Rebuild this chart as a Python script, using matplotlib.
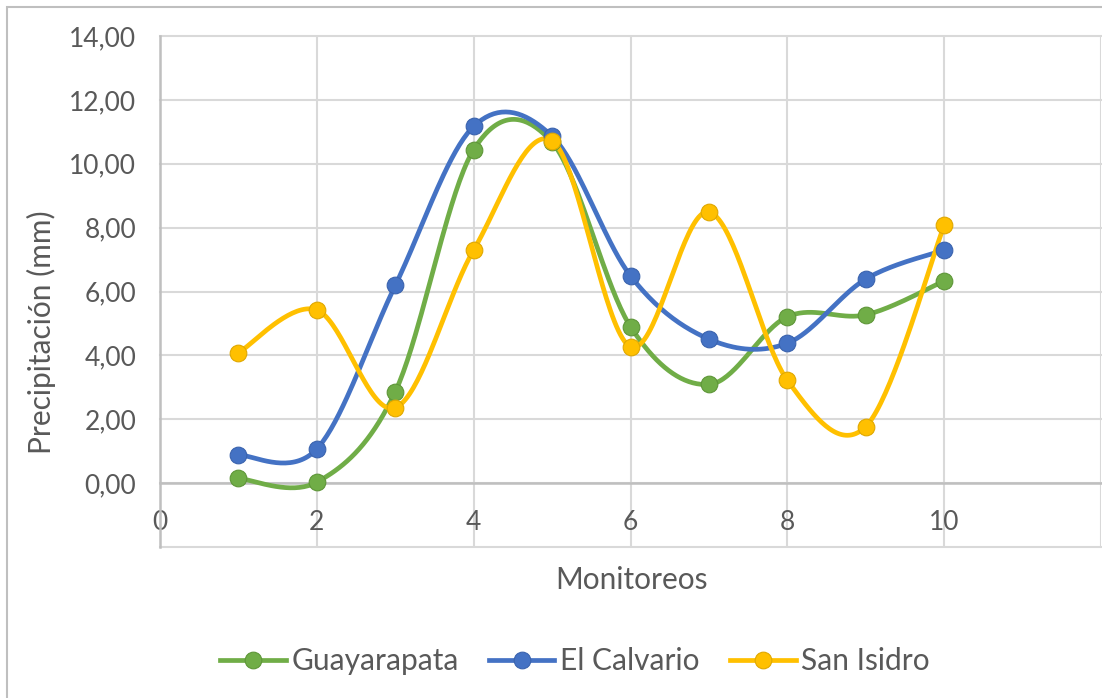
import numpy as np
import matplotlib.pyplot as plt
from matplotlib.patches import Rectangle
from matplotlib.lines import Line2D

monitoreos = [1, 2, 3, 4, 5, 6, 7, 8, 9, 10]
guayarapata = [0.15, 0.03, 2.86, 10.44, 10.67, 4.90, 3.09, 5.21, 5.27, 6.33]
el_calvario = [0.88, 1.07, 6.19, 11.17, 10.86, 6.49, 4.51, 4.38, 6.39, 7.30]
san_isidro = [4.08, 5.42, 2.36, 7.30, 10.72, 4.27, 8.49, 3.22, 1.77, 8.07]

x_ticks = [0, 2, 4, 6, 8, 10, 12]
x_ticklabels = ['0', '2', '4', '6', '8', '10', '']
y_ticks = [-2, 0, 2, 4, 6, 8, 10, 12, 14]
y_ticklabels = [''] + ['%.2f' % v for v in y_ticks[1:]]
y_ticklabels = [s.replace('.', ',') for s in y_ticklabels]

series = [('Guayarapata', guayarapata, '#70AD47', '#5E9638'),
          ('El Calvario', el_calvario, '#4472C4', '#3A63AE'),
          ('San Isidro', san_isidro, '#FFC000', '#E0A800')]


def smooth(x, y, n=40):
    # Bezier segments with Catmull-Rom control points (same as spreadsheet "smoothed line")
    x = np.asarray(x, float)
    y = np.asarray(y, float)
    px = np.concatenate([[x[0]], x, [x[-1]]])
    py = np.concatenate([[y[0]], y, [y[-1]]])
    t = np.linspace(0, 1, n)
    xs, ys = [], []
    for i in range(1, len(px) - 2):
        p0 = np.array([px[i], py[i]])
        p3 = np.array([px[i + 1], py[i + 1]])
        c1 = p0 + (p3 - np.array([px[i - 1], py[i - 1]])) / 6
        c2 = p3 - (np.array([px[i + 2], py[i + 2]]) - p0) / 6
        b = ((1 - t) ** 3)[:, None] * p0 + (3 * (1 - t) ** 2 * t)[:, None] * c1 \
            + (3 * (1 - t) * t ** 2)[:, None] * c2 + (t ** 3)[:, None] * p3
        xs.append(b[:, 0])
        ys.append(b[:, 1])
    return np.concatenate(xs), np.concatenate(ys)


plt.rcParams['font.family'] = ['Lato', 'DejaVu Sans']
text_color = '#595959'

fig = plt.figure(figsize=(11.02, 6.98), dpi=100)
fig.patches.append(Rectangle((7 / 1102, -0.1), 1.2, 1 - 7 / 698 + 0.1,
                             transform=fig.transFigure, fill=False,
                             edgecolor='#BFBFBF', linewidth=1.5))

ax = fig.add_axes([160 / 1102, 1 - 547 / 698, (1101 - 160) / 1102, (547 - 36) / 698])
ax.set_xlim(0, 12)
ax.set_ylim(-2, 14)

for name, vals, col, edge in series:
    sx, sy = smooth(monitoreos, vals)
    ax.plot(sx, sy, color=col, lw=3.4, solid_capstyle='round', zorder=3)
    ax.plot(monitoreos, vals, 'o', color=col, markersize=12,
            markeredgecolor=edge, markeredgewidth=0.8, zorder=4)

ax.set_xticks(x_ticks)
ax.set_xticklabels(x_ticklabels)
ax.set_yticks(y_ticks)
ax.set_yticklabels(y_ticklabels)
ax.grid(True, color='#D9D9D9', linewidth=1.5, zorder=0)
ax.set_axisbelow(True)
for gl in ax.get_xgridlines() + ax.get_ygridlines():
    gl.set_clip_on(False)

for side in ['top', 'right']:
    ax.spines[side].set_visible(False)
ax.spines['bottom'].set_position(('data', 0))
ax.spines['bottom'].set_color('#BFBFBF')
ax.spines['bottom'].set_linewidth(1.8)
ax.spines['left'].set_color('#BFBFBF')
ax.spines['left'].set_linewidth(1.8)
ax.tick_params(axis='both', length=0, labelsize=19, labelcolor=text_color)
ax.tick_params(axis='x', pad=19)
ax.tick_params(axis='y', pad=17)

fig.text(631 / 1102, 1 - 580 / 698, 'Monitoreos', ha='center', va='center',
         fontsize=21.5, color=text_color)
fig.text(41 / 1102, 1 - 332 / 698, 'Precipitación (mm)', ha='center', va='center',
         rotation=90, fontsize=21.5, color=text_color)

handles = [Line2D([0], [0], color=col, lw=3.4, marker='o', markersize=12,
                  markeredgecolor=edge, markeredgewidth=0.8)
           for _, _, col, edge in series]
leg = fig.legend(handles, [s[0] for s in series], loc='center',
                 bbox_to_anchor=(575 / 1102, 1 - 661 / 698), ncol=3, frameon=False,
                 fontsize=21.5, handlelength=2.2, handletextpad=0.2, columnspacing=1.0)
for t in leg.get_texts():
    t.set_color(text_color)

fig.savefig('out.png', dpi=100)
